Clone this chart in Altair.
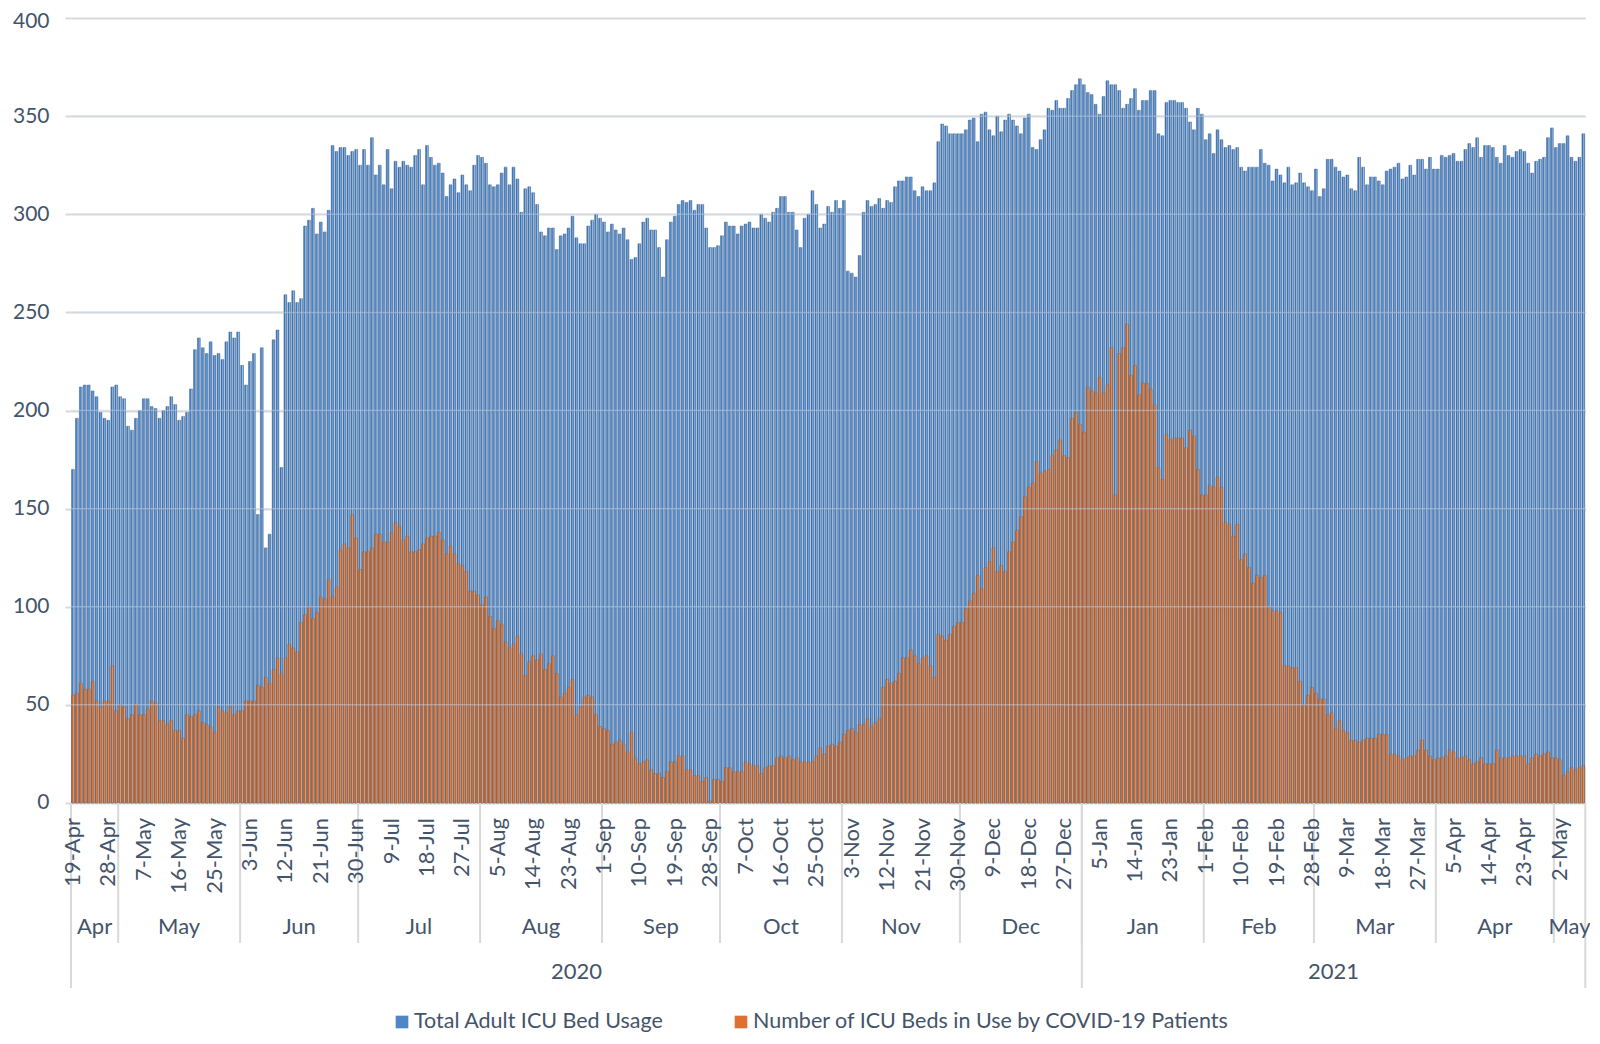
import altair as alt
import pandas as pd

# ---------------- data ----------------
total_apr20 = [170, 196, 212, 213, 213, 210, 207, 199, 196, 195, 212, 213]
total_may20 = [207, 206, 192, 190, 196, 200, 206, 206, 202, 201, 196, 200, 202, 207, 203, 195,
               197, 199, 211, 231, 237, 232, 229, 235, 228, 229, 226, 235, 240, 237, 240]
total_jun20 = [223, 213, 225, 229, 147, 232, 130, 137, 236, 241, 171, 259, 255, 261, 255, 257,
               294, 297, 303, 290, 296, 291, 302, 335, 332, 334, 334, 330, 332, 333]
total_jul20 = [325, 333, 325, 339, 320, 325, 315, 333, 313, 327, 324, 327, 325, 324, 330, 333,
               315, 335, 329, 325, 326, 321, 309, 315, 318, 311, 320, 315, 312, 325, 330]
total_aug20 = [329, 326, 315, 314, 315, 321, 324, 315, 324, 318, 301, 313, 314, 311, 305, 291,
               289, 293, 293, 282, 289, 290, 293, 299, 288, 285, 285, 294, 297, 300, 298]
total_sep20 = [296, 291, 295, 292, 290, 293, 287, 277, 278, 285, 296, 298, 292, 292, 283, 268,
               287, 296, 299, 305, 307, 306, 307, 302, 305, 305, 293, 283, 283, 284]
total_oct20 = [289, 296, 294, 294, 290, 294, 295, 296, 293, 293, 300, 298, 296, 301, 303, 309,
               309, 301, 301, 292, 283, 298, 300, 312, 305, 293, 295, 304, 301, 307, 303]
total_nov20 = [307, 271, 270, 268, 279, 301, 307, 304, 305, 308, 303, 307, 306, 314, 317, 317,
               319, 319, 312, 309, 314, 312, 312, 316, 337, 346, 345, 341, 341, 341]
total_dec20 = [341, 343, 348, 349, 337, 351, 352, 343, 340, 350, 342, 348, 351, 348, 345, 341,
               349, 351, 334, 333, 338, 343, 354, 353, 358, 354, 354, 359, 363, 366, 369]
total_jan21 = [366, 362, 361, 356, 351, 360, 368, 366, 366, 363, 354, 356, 359, 364, 353, 358,
               358, 363, 363, 341, 340, 357, 358, 358, 357, 357, 354, 347, 343, 354, 351]
total_feb21 = [338, 341, 331, 343, 338, 334, 335, 333, 334, 324, 322, 324, 324, 324, 333, 326,
               325, 317, 323, 320, 316, 324, 315, 316, 321, 316, 314, 312]
total_mar21 = [323, 309, 313, 328, 328, 324, 322, 319, 320, 313, 312, 329, 324, 315, 319, 319,
               317, 315, 322, 323, 324, 326, 318, 319, 325, 320, 328, 328, 323, 329, 323]
total_apr21 = [323, 330, 329, 330, 331, 327, 327, 333, 336, 334, 339, 329, 335, 335, 334, 329,
               326, 335, 330, 329, 332, 333, 332, 326, 321, 327, 328, 329, 339, 344]
total_may21 = [334, 336, 336, 340, 329, 327, 329, 341]

covid_apr20 = [55, 56, 61, 58, 58, 62, 52, 49, 52, 52, 70, 47]
covid_may20 = [50, 49, 43, 45, 50, 45, 45, 48, 52, 51, 42, 42, 40, 42, 37, 37, 33, 45, 44, 45,
               47, 41, 40, 39, 36, 49, 47, 46, 49, 45, 47]
covid_jun20 = [47, 52, 52, 52, 60, 59, 64, 61, 68, 74, 66, 74, 81, 79, 77, 92, 96, 100, 94, 97,
               105, 104, 114, 105, 110, 129, 132, 130, 147, 135]
covid_jul20 = [119, 128, 128, 130, 137, 137, 133, 133, 138, 143, 141, 134, 136, 128, 128, 129,
               132, 135, 136, 136, 138, 134, 127, 131, 127, 122, 121, 118, 108, 108, 106]
covid_aug20 = [101, 105, 95, 89, 93, 91, 82, 79, 81, 85, 76, 65, 72, 75, 73, 76, 68, 71, 75, 66,
               54, 56, 59, 63, 45, 49, 54, 55, 54, 45, 39]
covid_sep20 = [38, 37, 30, 31, 32, 30, 26, 36, 23, 20, 21, 22, 17, 15, 15, 13, 16, 21, 21, 24,
               24, 17, 17, 14, 14, 11, 13, 1, 12, 12]
covid_oct20 = [11, 18, 18, 16, 16, 16, 21, 20, 19, 19, 15, 18, 19, 19, 23, 24, 23, 24, 22, 23,
               21, 21, 21, 21, 24, 28, 25, 29, 30, 29, 31]
covid_nov20 = [35, 37, 38, 36, 40, 40, 43, 39, 41, 43, 59, 63, 61, 62, 66, 74, 74, 78, 75, 71,
               74, 75, 70, 64, 86, 85, 83, 86, 90, 92]
covid_dec20 = [92, 99, 103, 107, 116, 109, 120, 123, 130, 118, 121, 118, 128, 133, 139, 146,
               156, 161, 163, 174, 168, 169, 170, 177, 180, 185, 177, 176, 196, 199, 193]
covid_jan21 = [189, 212, 210, 209, 217, 209, 213, 232, 157, 229, 232, 244, 218, 223, 208, 214,
               214, 211, 203, 171, 165, 188, 185, 186, 186, 186, 181, 190, 187, 170, 157]
covid_feb21 = [157, 162, 161, 166, 161, 143, 142, 136, 142, 124, 127, 120, 112, 116, 115, 116,
               100, 98, 98, 97, 70, 70, 69, 69, 62, 50, 55, 59]
covid_mar21 = [56, 53, 53, 45, 46, 38, 42, 37, 36, 32, 32, 31, 32, 33, 33, 33, 35, 35, 35, 25,
               25, 24, 22, 23, 24, 24, 27, 32, 27, 24, 22]
covid_apr21 = [23, 23, 24, 27, 26, 23, 23, 24, 22, 20, 21, 23, 20, 20, 20, 27, 23, 23, 23, 24,
               24, 24, 24, 20, 23, 25, 24, 25, 26, 23]
covid_may21 = [23, 22, 14, 16, 18, 17, 18, 19]

month_names = ["Apr", "May", "Jun", "Jul", "Aug", "Sep", "Oct", "Nov", "Dec",
               "Jan", "Feb", "Mar", "Apr", "May"]
month_years = ["2020"] * 9 + ["2021"] * 5
total_by_month = [total_apr20, total_may20, total_jun20, total_jul20, total_aug20, total_sep20,
                  total_oct20, total_nov20, total_dec20, total_jan21, total_feb21, total_mar21,
                  total_apr21, total_may21]
covid_by_month = [covid_apr20, covid_may20, covid_jun20, covid_jul20, covid_aug20, covid_sep20,
                  covid_oct20, covid_nov20, covid_dec20, covid_jan21, covid_feb21, covid_mar21,
                  covid_apr21, covid_may21]

day_labels = ["19-Apr", "28-Apr", "7-May", "16-May", "25-May", "3-Jun", "12-Jun", "21-Jun",
              "30-Jun", "9-Jul", "18-Jul", "27-Jul", "5-Aug", "14-Aug", "23-Aug", "1-Sep",
              "10-Sep", "19-Sep", "28-Sep", "7-Oct", "16-Oct", "25-Oct", "3-Nov", "12-Nov",
              "21-Nov", "30-Nov", "9-Dec", "18-Dec", "27-Dec", "5-Jan", "14-Jan", "23-Jan",
              "1-Feb", "10-Feb", "19-Feb", "28-Feb", "9-Mar", "18-Mar", "27-Mar", "5-Apr",
              "14-Apr", "23-Apr", "2-May"]
day_label_step = 9

y_ticks = [0, 50, 100, 150, 200, 250, 300, 350, 400]

series_names = ["Total Adult ICU Bed Usage", "Number of ICU Beds in Use by COVID-19 Patients"]

# ---------------- tables ----------------
rows, month_rows = [], []
idx = 0
for name, yr, tl, cl in zip(month_names, month_years, total_by_month, covid_by_month):
    assert len(tl) == len(cl), name
    month_rows.append({"month": name, "year": yr, "start": idx, "n": len(tl)})
    for t, c in zip(tl, cl):
        rows.append({"idx": idx, "total": t, "covid": c})
        idx += 1
n_days = idx
df = pd.DataFrame(rows)

mdf = pd.DataFrame(month_rows)
mdf["mid"] = mdf["start"] + (mdf["n"] - 1) / 2
mdf["bound"] = mdf["start"] - 0.5
month_bounds = mdf.iloc[1:][["bound"]]

ydf = mdf.groupby("year", as_index=False).agg(start=("start", "min"), n=("n", "sum"))
ydf["mid"] = ydf["start"] + (ydf["n"] - 1) / 2
year_bounds = pd.DataFrame({"bound": list(ydf["start"] - 0.5) + [n_days - 0.5]})

dl = pd.DataFrame({"label": day_labels, "idx": [i * day_label_step for i in range(len(day_labels))]})
grid_df = pd.DataFrame({"v": y_ticks[1:-1]})

# ---------------- style ----------------
W, H = 1514.3, 785
FONT = "Lato"
TXT = "#44546A"
GRID = "#D9D9D9"

xs = alt.Scale(domain=[-0.5, n_days - 0.5], nice=False, zero=False)
ys = alt.Scale(domain=[0, 400], nice=False)

blue_grad = alt.Gradient(gradient="linear", x1=0, x2=1, y1=0, y2=0, stops=[
    alt.GradientStop(offset=0, color="#2C5A8D"),
    alt.GradientStop(offset=0.35, color="#4680C3"),
    alt.GradientStop(offset=0.65, color="#96BEEA"),
    alt.GradientStop(offset=0.85, color="#4E84C4"),
    alt.GradientStop(offset=1, color="#306095")])
orange_grad = alt.Gradient(gradient="linear", x1=0, x2=1, y1=0, y2=0, stops=[
    alt.GradientStop(offset=0, color="#A0512C"),
    alt.GradientStop(offset=0.35, color="#C86830"),
    alt.GradientStop(offset=0.65, color="#E49E74"),
    alt.GradientStop(offset=0.85, color="#CC6E3A"),
    alt.GradientStop(offset=1, color="#A9582D")])

yaxis = alt.Axis(values=y_ticks, grid=True, gridColor=GRID, gridWidth=2,
                 domain=False, ticks=True, tickSize=6, tickColor=GRID, tickWidth=2,
                 labelPadding=16, labelFont=FONT, labelFontSize=21, labelColor=TXT, title=None,
                 labelOffset=alt.expr("datum.value == 400 ? 3 : 0"))

base = alt.Chart(df).transform_calculate(x0="datum.idx - 0.36", x1="datum.idx + 0.36")
blue = base.mark_bar(fill=blue_grad, stroke="#55739A", strokeWidth=0.5).encode(
    x=alt.X("x0:Q", scale=xs, axis=None), x2="x1:Q",
    y=alt.Y("total:Q", scale=ys, axis=yaxis), y2=alt.datum(0))
orange = base.mark_bar(fill=orange_grad, stroke="#8A6A58", strokeWidth=0.5).encode(
    x=alt.X("x0:Q", scale=xs, axis=None), x2="x1:Q",
    y=alt.Y("covid:Q", scale=ys, axis=yaxis), y2=alt.datum(0))

# faint gridlines showing through the bars, as in the reference
grid_over = alt.Chart(grid_df).mark_rule(color="#C8D8EC", opacity=0.45, strokeWidth=1.5).encode(
    y=alt.Y("v:Q", scale=ys, axis=yaxis), x=alt.value(0), x2=alt.value(W))

day_text = alt.Chart(dl).mark_text(angle=270, align="right", baseline="middle", font=FONT,
                                   fontSize=22, color=TXT).encode(
    x=alt.X("idx:Q", scale=xs, axis=None), y=alt.value(H + 15), text="label:N")

month_text = alt.Chart(mdf).mark_text(baseline="middle", font=FONT, fontSize=22, color=TXT).encode(
    x=alt.X("mid:Q", scale=xs, axis=None), y=alt.value(H + 124), text="month:N")

month_rules = alt.Chart(month_bounds).mark_rule(color=GRID, strokeWidth=2).encode(
    x=alt.X("bound:Q", scale=xs, axis=None), y=alt.value(H), y2=alt.value(H + 140))

year_rules = alt.Chart(year_bounds).mark_rule(color=GRID, strokeWidth=2).encode(
    x=alt.X("bound:Q", scale=xs, axis=None), y=alt.value(H), y2=alt.value(H + 185))

year_text = alt.Chart(ydf).mark_text(baseline="middle", font=FONT, fontSize=22, color=TXT).encode(
    x=alt.X("mid:Q", scale=xs, axis=None), y=alt.value(H + 169), text="year:N")

leg_df = pd.DataFrame({"label": series_names})
leg_y = H + 219
leg_blue_sq = alt.Chart(leg_df.iloc[[0]]).mark_square(size=160, color="#4E86C6", opacity=1).encode(
    x=alt.value(331), y=alt.value(leg_y))
leg_blue_tx = alt.Chart(leg_df.iloc[[0]]).mark_text(align="left", baseline="middle", font=FONT,
                                                    fontSize=21.5, color=TXT).encode(
    x=alt.value(343), y=alt.value(leg_y), text="label:N")
leg_or_sq = alt.Chart(leg_df.iloc[[1]]).mark_square(size=160, color="#DE7131", opacity=1).encode(
    x=alt.value(670), y=alt.value(leg_y))
leg_or_tx = alt.Chart(leg_df.iloc[[1]]).mark_text(align="left", baseline="middle", font=FONT,
                                                  fontSize=21.5, color=TXT).encode(
    x=alt.value(682), y=alt.value(leg_y), text="label:N")

chart = alt.layer(
    blue, orange, grid_over, month_rules, year_rules, day_text, month_text, year_text,
    leg_blue_sq, leg_blue_tx, leg_or_sq, leg_or_tx
).properties(
    width=W, height=H,
    autosize=alt.AutoSizeParams(type="none"),
    padding={"left": 63, "top": 10, "right": 5, "bottom": 233},
    background="white"
).configure_view(stroke=None)

chart.save("out.html", embed_options={"renderer": "svg", "actions": False})
